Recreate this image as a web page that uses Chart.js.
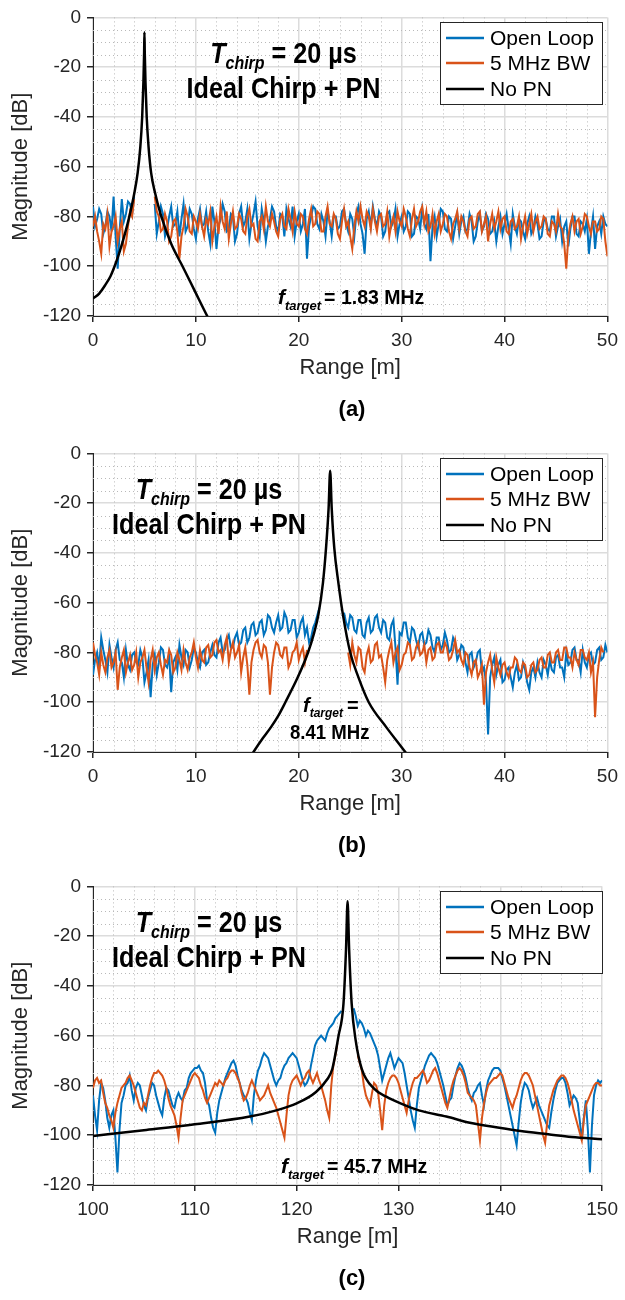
<!DOCTYPE html>
<html>
<head>
<meta charset="utf-8">
<script src="https://cdn.jsdelivr.net/npm/chart.js@4.4.1/dist/chart.umd.min.js"></script>
<style>
  html, body { margin: 0; padding: 0; background: #fff; }
  body { width: 625px; height: 1300px; position: relative; overflow: hidden; }
  canvas { position: absolute; left: 0; }
</style>
</head>
<body>
<canvas id="chart-a" width="625" height="431" style="top:0px"></canvas>
<canvas id="chart-b" width="625" height="431" style="top:436px"></canvas>
<canvas id="chart-c" width="625" height="431" style="top:869px"></canvas>
<script>
// --- DATA ---
// sample positions of the two noisy traces (0.2 m spacing)
function sampleGrid(start, step, count) {
  return Array.from({ length: count }, (_, i) => +(start + i * step).toFixed(2));
}
const rangeA = sampleGrid(0, 0.2, 251);
const rangeB = sampleGrid(0, 0.2, 251);
const rangeC = sampleGrid(100, 0.2, 251);

// panel (a), f_target = 1.83 MHz
const openLoopA = [
  -76,-84, -81,-77, -79,-87, -84,-78, -80,-86, -72,-88, -101,-85, -73,-82, -79,-74, -75,-79,
  -72,null, null,null, null,null, null,null, null,null, -75,-87, -82,-76, -79,-88, -85,-80, -76,-84,
  -83,-78, -88,-81, -75,-86, -84,-77, -79,-85, -89,-81, -77,-84, -83,-78, -86,-91, -76,-82,
  -93,-84, -81,-75, -78,-86, -85,-79, -80,-90, -87,-79, -76,-84, -82,-77, -89,-83, -79,-74,
  -84,-88, -77,-82, -90,-84, -81,-76, -78,-84, -86,-79, -80,-88, -77,-81, -84,-76, -88,-82,
  -79,-86, -83,-77, -97,-84, -80,-76, -77,-83, -85,-79, -82,-88, -78,-82, -88,-80, -80,-85,
  -84,-78, -77,-83, -86,-79, -81,-88, -79,-76, -83,-87, -95,-81, -78,-84, -76,-81, -84,-78,
  -80,-88, -86,-79, -78,-84, -82,-77, -88,-83, -80,-86, -84,-78, -79,-88, -87,-80, -81,-85,
  -77,-83, -85,-79, -98,-84, -80,-88, -83,-77, -78,-85, -86,-80, -81,-89, -84,-79, -87,-82,
  -80,-86, -85,-79, -82,-90, -88,-82, -79,-86, -84,-79, -81,-87, -86,-82, -90,-84, -80,-87,
  -83,-79, -85,-91, -79,-84, -87,-81, -82,-86, -89,-83, -80,-87, -85,-80, -83,-89, -88,-82,
  -81,-85, -86,-80, -80,-88, -84,-81, -90,-84, -82,-92, -85,-80, -80,-87, -88,-82, -83,-86,
  -81,-95, -86,-80, -93,-84, -82,-87, -80,-83, -84];
const bw5A = [
  -84,-80, -86,-90, -95,-83, -85,-79, -92,-86, -84,-80, -90,-85, -82,-94, -91,-84, -78,-80,
  -73,null, null,null, null,null, null,null, null,null, -72,-78, -80,-86, -85,-79, -82,-90, -88,-82,
  -81,-86, -97,-88, -84,-77, -80,-86, -87,-80, -82,-85, -79,-84, -88,-81, -83,-78, -90,-84,
  -80,-87, -76,-82, -85,-78, -89,-83, -78,-85, -84,-79, -81,-86, -87,-80, -77,-84, -83,-89,
  -90,-82, -80,-85, -76,-82, -84,-79, -82,-86, -88,-81, -79,-84, -85,-77, -81,-86, -78,-83,
  -84,-79, -80,-85, -87,-81, -77,-84, -83,-78, -79,-86, -86,-80, -76,-83, -84,-79, -81,-87,
  -89,-82, -77,-84, -82,-88, -93,-84, -78,-82, -76,-81, -84,-78, -80,-85, -77,-82, -86,-80,
  -79,-84, -83,-78, -88,-83, -80,-86, -78,-82, -84,-77, -80,-85, -88,-81, -77,-84, -82,-78,
  -76,-83, -78,-86, -84,-79, -87,-82, -79,-86, -83,-79, -80,-86, -89,-83, -81,-78, -85,-80,
  -82,-86, -88,-81, -80,-85, -84,-79, -78,-86, -83,-80, -90,-83, -79,-85, -82,-78, -85,-81,
  -80,-86, -87,-82, -81,-85, -84,-80, -89,-84, -80,-87, -83,-79, -86,-82, -80,-85, -84,-80,
  -81,-87, -88,-82, -83,-86, -79,-84, -85,-91, -101,-88, -83,-80, -86,-82, -81,-87, -84,-79,
  -80,-84, -87,-82, -82,-86, -85,-80, -81,-90, -96];
const noPnXA = [0, 0.6, 1.2, 1.7, 2.1, 2.6, 3.1, 3.56, 4.0, 4.34, 4.6, 4.78, 4.9, 4.97, 5.0,
  5.03, 5.1, 5.22, 5.4, 5.65, 6.0, 6.6, 7.6, 8.7, 9.9, 11.1, 11.5];
const noPnYA = [-113, -111, -107.5, -104, -100, -94, -87, -79.5, -71, -62.5, -52, -40, -26, -14, -6,
  -14, -26, -40, -52, -62.5, -70, -79.5, -91, -100, -110, -120, -123];

// panel (b), f_target = 8.41 MHz
const openLoopB = [
  -89,-83, -80,-86, -74,-79, -83,-88, -77,-82, -86,-79, -76,-83, -84,-90, -79,-85, -87,-81,
  -80,-84, -85,-79, -82,-92, -88,-83, -98,-85, -81,-89, -84,-78, -79,-85, -86,-81, -96,-84,
  -82,-87, -77,-82, -85,-79, -80,-86, -83,-78, -80,-84, -86,-80, -79,-85, -84,-80, -77,-81,
  -82,-76, -74,-80, -79,-75, -73,-78, -78,-74, -72,-77, -76,-71, -70,-76, -74,-69, -68,-73,
  -72,-68, -67,-73, -71,-65, -66,-70, -72,-68, -65,-71, -70,-64, -66,-72, -71,-67, -67,-74,
  -72,-68, -66,-73, -70,-76, -74,-70, -68,-65, -62,null, null,null, null,null, null,null, null,null,
  null,null, -64,-68, -70,-65, -66,-71, -72,-67, -67,-73, -74,-68, -66,-72, -71,-66, -65,-70,
  -72,-67, -68,-74, -75,-69, -67,-78, -93,-72, -73,-68, -68,-74, -76,-70, -71,-75, -78,-73,
  -72,-77, -76,-71, -73,-78, -80,-74, -74,-79, -77,-72, -75,-80, -79,-74, -76,-83, -81,-77,
  -78,-84, -88,-81, -80,-86, -84,-80, -79,-88, -86,-92, -113,-90, -85,-82, -89,-85, -83,-92,
  -91,-87, -86,-90, -94,-88, -85,-91, -90,-84, -87,-92, -95,-88, -86,-90, -84,-88, -90,-83,
  -85,-89, -83,-87, -88,-82, -81,-86, -86,-90, -80,-85, -84,-79, -78,-83, -83,-88, -79,-84,
  -86,-81, -80,-85, -84,-79, -78,-83, -82,-77, -80];
const bw5B = [
  -76,-81, -84,-89, -80,-85, -88,-82, -79,-86, -84,-80, -95,-86, -82,-79, -88,-84, -81,-87,
  -85,-80, -90,-84, -82,-79, -86,-92, -83,-79, -87,-82, -80,-85, -89,-83, -84,-79, -81,-88,
  -86,-80, -83,-87, -79,-84, -87,-82, -80,-76, -82,-86, -79,-83, -84,-78, -77,-82, -81,-76,
  -75,-80, -79,-83, -77,-74, -84,-79, -76,-82, -80,-77, -88,-82, -78,-85, -97,-84, -79,-76,
  -75,-80, -82,-77, -78,-84, -97,-86, -80,-76, -77,-81, -82,-78, -78,-86, -84,-80, -79,-76,
  -83,-80, -78,-84, -79,null, null,null, null,null, null,null, null,null, null,null, null,null,
  null,null, null,null, null,null, -80,-85, -76,-81, -84,-78, -79,-86, -88,-81, -78,-84, -83,-77,
  -76,-82, -81,-86, -92,-83, -79,-76, -84,-80, -78,-87, -85,-81, -80,-76, -77,-83, -82,-78,
  -76,-81, -80,-77, -84,-79, -78,-83, -82,-77, -76,-80, -80,-76, -78,-83, -82,-79, -75,-80,
  -79,-83, -85,-80, -81,-86, -89,-84, -83,-90, -88,-85, -101,-88, -84,-81, -87,-92, -82,-86,
  -89,-85, -84,-88, -90,-86, -86,-82, -83,-87, -88,-84, -85,-90, -89,-85, -84,-88, -87,-83,
  -82,-86, -86,-81, -80,-84, -84,-80, -79,-83, -83,-78, -78,-82, -82,-86, -80,-83, -85,-79,
  -79,-82, -83,-80, -88,-84, -106,-90, -83,-78, -80];
const noPnXB = [15.3, 15.6, 16.5, 17.3, 18.0, 18.7, 19.9, 20.9, 21.5, 21.9, 22.35, 22.65, 22.9, 23.05,
  23.2, 23.45, 23.85, 24.3, 25.0, 25.8, 26.8, 28.5, 30.35, 30.7];
const noPnYB = [-122, -120, -114.5, -110, -105.5, -100, -90, -80, -72, -65, -52, -38, -22, -7,
  -22, -38, -52, -65, -80, -90, -100, -110, -120, -122];

// panel (c), f_target = 45.7 MHz
const openLoopC = [
  -84,-92, -98,-86, -79,-81, -86,-93, -97,-92, -90,-101, -115,-98, -87,-84, -80,-79, -76,-82,
  -86,-81, -79,-80, -84,-88, -90,-85, -82,-79, -80,-84, -87,-90, -92,-85, -81,-82, -85,-88,
  -89,-85, -83,-85, -86,-82, -81,-77, -75,-74, -73,-73, -72,-74, -75,-79, -86,-88, -93,-97,
  -99,-91, -86,-83, -80,-77, -75,-73, -71,-70, -72,-76, -79,-82, -84,-85, -87,-91, -94,-84,
  -78,-74, -72,-69, -67,-68, -69,-72, -75,-78, -80,-78, -77,-74, -72,-71, -69,-68, -67,-68,
  -69,-72, -75,-78, -80,-79, -77,-72, -68,-64, -62,-61, -60,-61, -62,-59, -57,-56, -55,-53,
  -52,-51, -50,null, null,null, null,null, -49,-52, -56,-54, -55,-57, -60,-58, -59,-61, -63,-65,
  -68,-73, -78,-75, -72,-69, -67,-70, -73,-71, -69,-70, -71,-75, -80,-85, -90,-94, -97,-88,
  -81,-78, -75,-72, -70,-68, -67,-68, -69,-71, -74,-77, -80,-84, -88,-86, -85,-80, -76,-73,
  -71,-72, -74,-77, -81,-84, -86,-83, -82,-80, -79,-84, -88,-82, -78,-76, -74,-73, -73,-73,
  -74,-77, -80,-84, -88,-92, -96,-100, -104,-95, -87,-82, -79,-80, -82,-86, -89,-87, -85,-88,
  -90,-92, -94,-96, -97,-91, -86,-82, -79,-78, -77,-77, -79,-83, -88,-86, -84,-85, -87,-94,
  -102,-93, -86,-98, -115,-96, -84,-80, -78,-79, -78];
const bw5C = [
  -81,-78, -77,-79, -78,-83, -87,-89, -92,-94, -97,-91, -87,-84, -81,-80, -79,-77, -76,-78,
  -80,-83, -86,-89, -90,-87, -88,-84, -80,-77, -75,-75, -74,-75, -76,-78, -81,-85, -88,-90,
  -92,-96, -101,-93, -86,-84, -82,-80, -78,-76, -75,-76, -77,-80, -82,-85, -87,-85, -83,-81,
  -79,-80, -78,-79, -80,-78, -77,-75, -74,-74, -75,-77, -79,-83, -86,-85, -83,-80, -78,-80,
  -82,-84, -86,-85, -84,-82, -80,-83, -85,-87, -89,-92, -95,-98, -101,-92, -84,-80, -78,-77,
  -76,-78, -80,-78, -77,-75, -74,-77, -79,-77, -75,-78, -80,-83, -86,-90, -93,-80, -72,-68,
  -63,null, null,null, null,null, null,null, null,null, -68,-71, -74,-80, -84,-86, -88,-83, -79,-80,
  -83,-90, -98,-88, -82,-79, -77,-76, -76,-77, -79,-82, -85,-88, -91,-86, -82,-79, -77,-77,
  -76,-75, -74,-76, -79,-78, -76,-74, -73,-75, -78,-81, -84,-87, -89,-85, -81,-78, -76,-74,
  -73,-74, -76,-79, -83,-84, -85,-86, -88,-95, -102,-93, -87,-83, -80,-79, -78,-77, -77,-76,
  -75,-76, -79,-82, -85,-87, -89,-86, -84,-81, -78,-76, -75,-75, -76,-78, -80,-84, -88,-92,
  -96,-100, -103,-95, -88,-85, -82,-80, -78,-77, -76,-76, -77,-79, -82,-86, -90,-93, -96,-99,
  -102,-94, -88,-86, -84,-82, -80,-79, -79,-80, -80];
const noPnXC = [100, 105, 110, 115.4, 118, 120, 121.9, 123, 123.5, 124.1, 124.6, 124.85, 125,
  125.15, 125.4, 125.8, 126.4, 127.6, 128.8, 130.2, 132, 134.7, 137, 139.9, 142, 144.7, 147, 150];
const noPnYC = [-100.3, -98, -95.6, -92.5, -90, -87.2, -82.6, -77.5, -73.4, -60.3, -47, -25, -6,
  -25, -47, -62, -73.4, -81.3, -84.5, -87.2, -90, -92.5, -95, -97, -98.3, -99.6, -100.7, -101.6];

const seriesNames = ["Open Loop", "5 MHz BW", "No PN"];

// --- STYLE ---
const FONT = '"Liberation Sans", Arial, Helvetica, sans-serif';
const TEXT = "#262626";
const BLUE = "#0072BD";
const ORANGE = "#D95319";
const BLACK = "#000000";
const b = size => `bold ${size}px ${FONT}`;
const bi = size => `italic bold ${size}px ${FONT}`;

function toPoints(xs, ys) {
  return xs.map((x, i) => ({ x, y: ys[i] }));
}

// --- PLUGINS ---
const minorGrid = {
  id: "minorGrid",
  beforeDatasetsDraw(chart, args, opts) {
    const { ctx, chartArea: area, scales: { x, y } } = chart;
    ctx.save();
    ctx.strokeStyle = "#b9b9b9";
    ctx.lineWidth = 1;
    ctx.setLineDash([1, 3]);
    const nx = Math.round((x.max - x.min) / opts.xStep);
    for (let i = 1; i < nx; i++) {
      if (i % opts.xEvery === 0) continue;
      const px = Math.round(x.getPixelForValue(x.min + i * opts.xStep)) + 0.5;
      ctx.beginPath(); ctx.moveTo(px, area.top); ctx.lineTo(px, area.bottom); ctx.stroke();
    }
    const ny = Math.round((y.max - y.min) / opts.yStep);
    for (let i = 1; i < ny; i++) {
      if (i % opts.yEvery === 0) continue;
      const py = Math.round(y.getPixelForValue(y.min + i * opts.yStep)) + 0.5;
      ctx.beginPath(); ctx.moveTo(area.left, py); ctx.lineTo(area.right, py); ctx.stroke();
    }
    ctx.restore();
  }
};

function drawRun(ctx, run) {
  // one line of rich text: parts with own font and baseline shift
  ctx.save();
  let w = 0;
  run.parts.forEach(p => { ctx.font = p.f; w += (p.g || 0) + ctx.measureText(p.t).width; });
  const sx = run.sx || 1;
  const x0 = run.align === "center" ? run.x - (w * sx) / 2 : run.x;
  ctx.translate(x0, run.y);
  ctx.scale(sx, 1);
  ctx.fillStyle = "#000";
  ctx.textAlign = "left";
  ctx.textBaseline = "alphabetic";
  let cx = 0;
  run.parts.forEach(p => {
    ctx.font = p.f;
    cx += p.g || 0;
    ctx.fillText(p.t, cx, p.dy || 0);
    cx += ctx.measureText(p.t).width;
  });
  ctx.restore();
}

const panelText = {
  id: "panelText",
  afterDatasetsDraw(chart, args, opts) {
    const ctx = chart.ctx;
    // legend box
    ctx.save();
    ctx.fillStyle = "#fff";
    ctx.fillRect(440.5, 22.5, 162, 82);
    ctx.strokeStyle = "#262626";
    ctx.lineWidth = 1;
    ctx.strokeRect(440.5, 22.5, 162, 82);
    const colors = [BLUE, ORANGE, BLACK];
    const rows = [38, 63, 89];
    ctx.font = `21px ${FONT}`;
    ctx.textBaseline = "middle";
    seriesNames.forEach((name, i) => {
      ctx.strokeStyle = colors[i];
      ctx.lineWidth = 2.5;
      ctx.beginPath(); ctx.moveTo(446, rows[i]); ctx.lineTo(484, rows[i]); ctx.stroke();
      ctx.fillStyle = "#000";
      ctx.fillText(name, 490, rows[i] + 1);
    });
    ctx.restore();
    opts.notes.forEach(run => drawRun(ctx, run));
    drawRun(ctx, { x: 352, y: 416, align: "center", parts: [{ t: opts.label, f: b(22) }] });
  }
};

// --- CHARTS ---
function chirpNote(cx) {
  return [
    { x: cx, y: 63, align: "center", sx: 0.84,
      parts: [{ t: "T", f: bi(30) }, { t: "chirp", f: bi(19), dy: 6 }, { t: " = 20 µs", f: b(30) }] },
    { x: cx, y: 98, align: "center", sx: 0.84, parts: [{ t: "Ideal Chirp + PN", f: b(30) }] }
  ];
}

function targetNote(x, text) {
  return { x, y: 304, parts: [{ t: "f", f: bi(21) }, { t: "target", f: bi(13), dy: 6 }, { t: text, f: b(19.5), g: 3 }] };
}

function makeChart(id, panel) {
  return new Chart(document.getElementById(id), {
    type: "line",
    data: {
      datasets: [
        { label: seriesNames[2], data: toPoints(panel.noPnX, panel.noPnY), borderColor: BLACK,
          borderWidth: 2.5, cubicInterpolationMode: "monotone", order: 1 },
        { label: seriesNames[1], data: toPoints(panel.range, panel.bw), borderColor: ORANGE, borderWidth: 2, order: 2 },
        { label: seriesNames[0], data: toPoints(panel.range, panel.open), borderColor: BLUE, borderWidth: 2, order: 3 }
      ]
    },
    options: {
      responsive: false,
      animation: false,
      devicePixelRatio: 1,
      elements: { point: { radius: 0 }, line: { tension: 0, fill: false } },
      layout: { padding: { top: 11, right: 13, bottom: 31, left: 0 } },
      scales: {
        x: {
          type: "linear", min: panel.xMin, max: panel.xMax,
          afterFit: s => { s.height = 84; },
          ticks: { stepSize: 10, color: TEXT, font: { family: FONT, size: 19 }, padding: 7, maxRotation: 0, autoSkip: false },
          grid: { color: "#dcdcdc", lineWidth: 1.5, tickColor: TEXT, tickLength: 6 },
          border: { color: TEXT, width: 1 },
          title: { display: true, text: "Range [m]", color: TEXT, font: { family: FONT, size: 22 }, padding: { top: 0, bottom: 19 } }
        },
        y: {
          min: -120, max: 0,
          afterFit: s => { s.width = 93; },
          ticks: { stepSize: 20, color: TEXT, font: { family: FONT, size: 19 }, padding: 6 },
          grid: { color: "#dcdcdc", lineWidth: 1.5, tickColor: TEXT, tickLength: 6 },
          border: { color: TEXT, width: 1 },
          title: { display: true, text: "Magnitude [dB]", color: TEXT, font: { family: FONT, size: 22 }, padding: { top: 8, bottom: 0 } }
        }
      },
      plugins: {
        legend: { display: false },
        tooltip: { enabled: false },
        minorGrid: { xStep: 2, xEvery: 5, yStep: 5, yEvery: 4 },
        panelText: { label: panel.label, notes: panel.notes }
      }
    },
    plugins: [minorGrid, panelText]
  });
}

makeChart("chart-a", {
  xMin: 0, xMax: 50, range: rangeA, open: openLoopA, bw: bw5A, noPnX: noPnXA, noPnY: noPnYA, label: "(a)",
  notes: [...chirpNote(283.5), targetNote(278, "= 1.83 MHz")]
});

makeChart("chart-b", {
  xMin: 0, xMax: 50, range: rangeB, open: openLoopB, bw: bw5B, noPnX: noPnXB, noPnY: noPnYB, label: "(b)",
  notes: [
    ...chirpNote(209),
    { x: 303, y: 276, parts: [{ t: "f", f: bi(20) }, { t: "target", f: bi(12), dy: 5 }, { t: "=", f: b(20), g: 4 }] },
    { x: 290, y: 303, sx: 0.93, parts: [{ t: "8.41 MHz", f: b(20) }] }
  ]
});

makeChart("chart-c", {
  xMin: 100, xMax: 150, range: rangeC, open: openLoopC, bw: bw5C, noPnX: noPnXC, noPnY: noPnYC, label: "(c)",
  notes: [...chirpNote(209), targetNote(281, "= 45.7 MHz")]
});
</script>
</body>
</html>
